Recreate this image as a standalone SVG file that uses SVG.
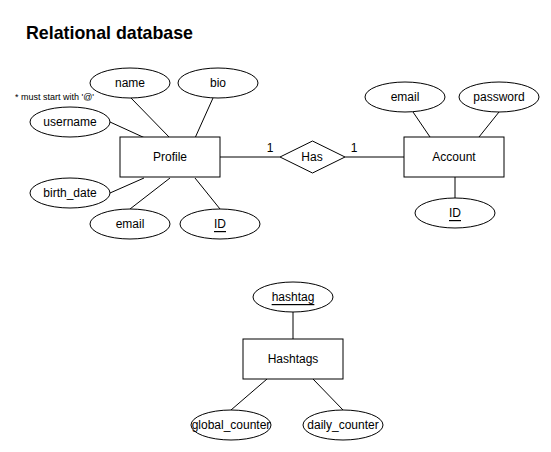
<svg xmlns="http://www.w3.org/2000/svg" width="551" height="452" viewBox="0 0 551 452">
<style>
.e{fill:#fff;stroke:#000;stroke-width:1}
.r{fill:#fff;stroke:#000;stroke-width:1}
.l{stroke:#000;stroke-width:1;fill:none}
text{font-family:"Liberation Sans",Arial,sans-serif;font-size:12px;fill:#000}
.c{text-anchor:middle;dominant-baseline:central}
.u{text-decoration:underline}
</style>
<rect width="551" height="452" fill="#fff"/>
<text x="26" y="39" style="font-size:17.8px;font-weight:bold">Relational database</text>
<text x="15" y="100" style="font-size:9px">* must start with '@'</text>
<g id="connectors">
<line class="l" x1="131" y1="98" x2="170" y2="138"/>
<line class="l" x1="213" y1="98" x2="195" y2="138"/>
<line class="l" x1="110" y1="122" x2="145" y2="138"/>
<line class="l" x1="110" y1="193" x2="144" y2="178"/>
<line class="l" x1="130" y1="209" x2="170" y2="178"/>
<line class="l" x1="220" y1="209" x2="195" y2="178"/>
<line class="l" x1="220" y1="157" x2="280" y2="157"/>
<line class="l" x1="345" y1="157" x2="404" y2="157"/>
<line class="l" x1="413" y1="112" x2="430" y2="137"/>
<line class="l" x1="499" y1="112" x2="479" y2="137"/>
<line class="l" x1="455" y1="177" x2="455" y2="198"/>
<line class="l" x1="293" y1="312" x2="293" y2="339"/>
<line class="l" x1="267" y1="379" x2="231" y2="410"/>
<line class="l" x1="313" y1="379" x2="343" y2="410"/>
<text x="270" y="148" class="c">1</text>
<text x="354" y="148" class="c">1</text>
</g>
<g id="profile"><rect class="r" x="120" y="137" width="100" height="40"/><text x="170" y="157" class="c">Profile</text></g>
<g id="has"><polygon class="r" points="280,157 312.5,141 345,157 312.5,173"/><text x="312" y="157" class="c">Has</text></g>
<g id="account"><rect class="r" x="404" y="137" width="100" height="40"/><text x="454" y="157" class="c">Account</text></g>
<g id="hashtags"><rect class="r" x="243" y="339" width="100" height="40"/><text x="293" y="359" class="c">Hashtags</text></g>
<g id="p-name"><ellipse class="e" cx="130" cy="83" rx="40" ry="15"/><text x="130" y="83" class="c">name</text></g>
<g id="p-bio"><ellipse class="e" cx="218" cy="83" rx="40" ry="15"/><text x="218" y="83" class="c">bio</text></g>
<g id="p-username"><ellipse class="e" cx="70" cy="122" rx="40" ry="15"/><text x="70" y="122" class="c">username</text></g>
<g id="p-birth_date"><ellipse class="e" cx="70" cy="193" rx="40" ry="15"/><text x="70" y="193" class="c">birth_date</text></g>
<g id="p-email"><ellipse class="e" cx="130" cy="224" rx="40" ry="15"/><text x="130" y="224" class="c">email</text></g>
<g id="p-id"><ellipse class="e" cx="220" cy="224" rx="40" ry="15"/><text x="220" y="224" class="c u">ID</text></g>
<g id="a-email"><ellipse class="e" cx="405" cy="97" rx="40" ry="15"/><text x="405" y="97" class="c">email</text></g>
<g id="a-password"><ellipse class="e" cx="499" cy="97" rx="40" ry="15"/><text x="499" y="97" class="c">password</text></g>
<g id="a-id"><ellipse class="e" cx="455" cy="213" rx="40" ry="15"/><text x="455" y="213" class="c u">ID</text></g>
<g id="h-hashtag"><ellipse class="e" cx="293" cy="297" rx="40" ry="15"/><text x="293" y="297" class="c u">hashtag</text></g>
<g id="h-global"><ellipse class="e" cx="231" cy="425" rx="40" ry="15"/><text x="231" y="425" class="c">global_counter</text></g>
<g id="h-daily"><ellipse class="e" cx="343" cy="425" rx="40" ry="15"/><text x="343" y="425" class="c">daily_counter</text></g>
</svg>
